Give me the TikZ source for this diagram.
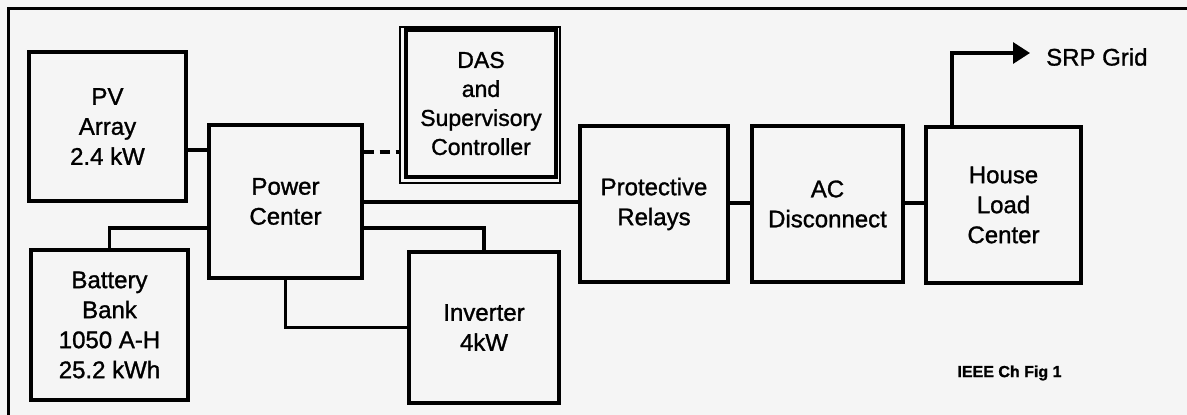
\documentclass[tikz,border=0pt]{standalone}
\usepackage{fontspec}
\setmainfont[FakeBold=1.2]{Liberation Sans}
\usetikzlibrary{arrows.meta}
\begin{document}
\begin{tikzpicture}[x=1pt,y=-1pt,
  blk/.style={draw=black,line width=3.2pt,rectangle,inner sep=0pt,align=center,
    font=\fontsize{24}{30}\selectfont},
  wire/.style={draw=black,line width=3.2pt,line join=miter},
]
\useasboundingbox (0,0) rectangle (1187,415);
\fill[white!96!black] (0,0) rectangle (1187,415);
% frame
\draw[line width=3pt] (8,415) -- (8,8) -- (1187,8);
% blocks
\node[blk,minimum width=157pt,minimum height=149pt] (pv) at (107.5,126.5) {PV\\Array\\2.4 kW};
\node[blk,minimum width=153pt,minimum height=153pt] (pc) at (285.5,201.5) {Power\\Center};
\node[draw=black,line width=1.6pt,rectangle,inner sep=0pt,minimum width=160pt,minimum height=156pt] (daso) at (480,105) {};
\node[blk,minimum width=150pt,minimum height=147pt,font=\fontsize{23}{29}\selectfont] (das) at (481,103.5) {DAS\\and\\Supervisory\\Controller};
\node[blk,minimum width=157pt,minimum height=150pt] (bat) at (109.5,325) {Battery\\Bank\\1050 A-H\\25.2 kWh};
\node[blk,minimum width=150pt,minimum height=151pt] (inv) at (484,327.5) {Inverter\\4kW};
\node[blk,minimum width=148pt,minimum height=156pt] (pr) at (654,204) {Protective\\Relays};
\node[blk,minimum width=151pt,minimum height=156pt] (ac) at (827.5,204) {AC\\Disconnect};
\node[blk,minimum width=155pt,minimum height=156pt] (hlc) at (1003.5,205) {House\\Load\\Center};
\node[anchor=west,inner sep=0pt,font=\fontsize{24}{30}\selectfont] (srp) at (1046,57) {SRP Grid};
\node[inner sep=0pt,font=\bfseries\fontsize{16}{20}\selectfont] (fig) at (1009.5,373) {IEEE Ch Fig 1};
% helper coordinates
\coordinate (y150) at (0,150);
\coordinate (y152) at (0,152);
\coordinate (y202) at (0,202);
\coordinate (y203) at (0,203);
\coordinate (y228) at (0,228);
\coordinate (x952) at (952,0);
\coordinate (grid) at (1030,53);
% connectors
\draw[wire] (pv.east |- y150) -- (pc.west |- y150);
\draw[wire,dash pattern=on 10pt off 6pt] (pc.east |- y152) -- (daso.west |- y152);
\draw[wire] (pc.east |- y202) -- (pr.west |- y202);
\draw[wire] (pr.east |- y203) -- (ac.west |- y203);
\draw[wire] (ac.east |- y203) -- (hlc.west |- y203);
\draw[wire] (bat.north) |- (pc.west |- y228);
\draw[wire] (pc.east |- y228) -| (inv.north);
\draw[wire] (pc.south) |- (inv.west);
\draw[wire,-{Triangle[length=17pt,width=21pt]}] (hlc.north -| x952) |- (grid);
\end{tikzpicture}
\end{document}
